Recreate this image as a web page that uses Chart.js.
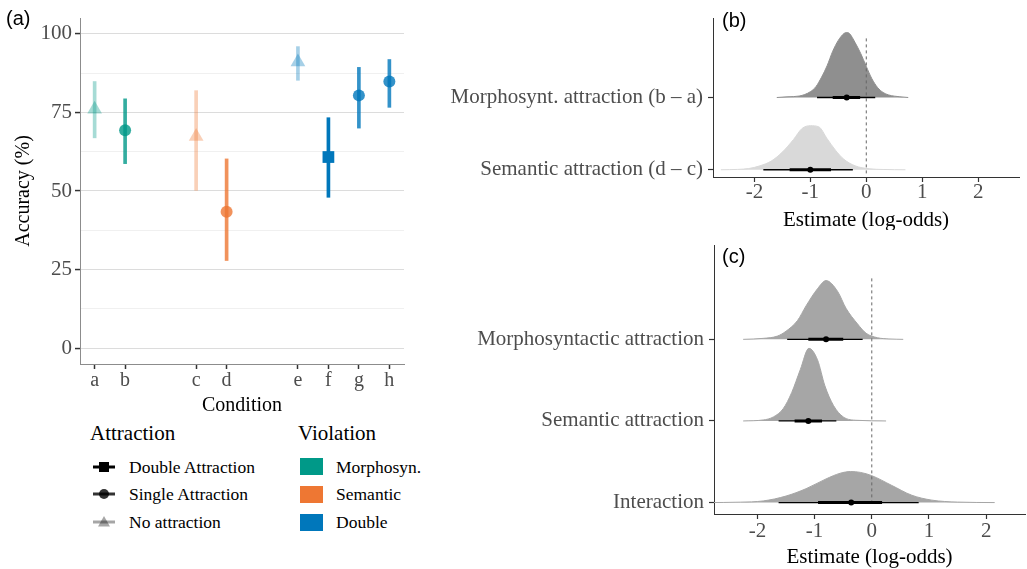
<!DOCTYPE html>
<html>
<head>
<meta charset="utf-8">
<script src="https://cdn.jsdelivr.net/npm/chart.js@4"></script>
<style>
body { margin: 0; width: 1027px; height: 569px; background: #fff; position: relative; overflow: hidden; font-family: 'Liberation Serif', serif; }
canvas { position: absolute; }
.tag { position: absolute; font-family: 'Liberation Sans', sans-serif; font-size: 20px; line-height: 20px; color: #000; }
.lgTitle { position: absolute; font-size: 21px; line-height: 21px; color: #000; white-space: nowrap; }
.lgText { position: absolute; font-size: 17.5px; line-height: 18px; color: #000; white-space: nowrap; }
.lgKey { position: absolute; }
</style>
</head>
<body>
<canvas id="accChart" width="410" height="420" style="left:0;top:0"></canvas>
<canvas id="diffChart" width="597" height="230" style="left:430px;top:0"></canvas>
<canvas id="effChart" width="597" height="339" style="left:430px;top:230px"></canvas>
<div class="tag" style="left:6px;top:8px">(a)</div>
<div class="tag" style="left:722px;top:10px">(b)</div>
<div class="tag" style="left:722px;top:246px">(c)</div>
<div id="legend"></div>
<script>
// Panel (a): accuracy per condition
const conditions = ["a", "b", "c", "d", "e", "f", "g", "h"];
const condPos = [1, 2, 4.33, 5.33, 7.67, 8.67, 9.67, 10.67]; // grouped category slots
const accuracy = [76, 69.3, 67.3, 43.4, 91, 60.8, 80.4, 84.8];
const accLower = [66.9, 58.7, 50.2, 27.9, 85.2, 48.0, 70.0, 76.6];
const accUpper = [84.8, 79.3, 81.9, 60.2, 95.9, 73.3, 89.3, 91.8];
const violation = ["Morphosyn.", "Morphosyn.", "Semantic", "Semantic", "Double", "Double", "Double", "Double"];
const attraction = ["No attraction", "Single Attraction", "No attraction", "Single Attraction",
                    "No attraction", "Double Attraction", "Single Attraction", "Single Attraction"];
const accTicks = [0, 12.5, 25, 37.5, 50, 62.5, 75, 87.5, 100];

// Legend levels
const attractionLevels = ["Double Attraction", "Single Attraction", "No attraction"];
const violationLevels = ["Morphosyn.", "Semantic", "Double"];

// Panel (b): posterior of the attraction differences (rows bottom to top)
const bLabels = ["Semantic attraction (d \u2013 c)", "Morphosynt. attraction (b \u2013 a)"];
const bDensX = [
    [-2.6, -2.3, -2.1, -1.9, -1.7, -1.5, -1.3, -1.15, -1.0, -0.85, -0.7, -0.55, -0.4, -0.2, 0.05, 0.3, 0.7],
    [-1.6, -1.4, -1.2, -1.0, -0.9, -0.8, -0.7, -0.6, -0.5, -0.4, -0.35, -0.3, -0.2, -0.1, 0, 0.1, 0.2, 0.3, 0.4, 0.6, 0.75]
];
const bDensH = [
    [0, 0.005, 0.017, 0.055, 0.12, 0.245, 0.42, 0.57, 0.61, 0.595, 0.43, 0.27, 0.145, 0.055, 0.014, 0.004, 0],
    [0, 0.01, 0.02, 0.08, 0.15, 0.28, 0.44, 0.64, 0.79, 0.885, 0.9, 0.885, 0.76, 0.61, 0.43, 0.26, 0.14, 0.07, 0.035, 0.01, 0]
];
const bPoint = [-1.0, -0.35];
const bInner = [[-1.37, -0.63], [-0.6, -0.11]];
const bOuter = [[-1.84, -0.24], [-0.88, 0.16]];

// Panel (c): posterior of the model effects (rows bottom to top)
const cLabels = ["Interaction", "Semantic attraction", "Morphosyntactic attraction"];
const cDensX = [
    [-2.9, -2.3, -1.9, -1.5, -1.15, -0.8, -0.55, -0.37, -0.2, 0, 0.35, 0.7, 1.05, 1.5, 2.15],
    [-2.25, -1.9, -1.72, -1.55, -1.4, -1.25, -1.1, -0.95, -0.82, -0.67, -0.5, -0.26, 0.25],
    [-2.25, -1.9, -1.65, -1.5, -1.3, -1.15, -0.95, -0.8, -0.6, -0.45, -0.25, -0.1, 0.1, 0.3, 0.55]
];
const cDensH = [
    [0, 0.005, 0.02, 0.08, 0.17, 0.29, 0.36, 0.38, 0.37, 0.33, 0.21, 0.09, 0.03, 0.006, 0],
    [0, 0.012, 0.05, 0.15, 0.35, 0.63, 0.89, 0.75, 0.43, 0.19, 0.05, 0.008, 0],
    [0, 0.012, 0.04, 0.10, 0.23, 0.41, 0.62, 0.72, 0.59, 0.38, 0.19, 0.075, 0.02, 0.005, 0]
];
const cPoint = [-0.36, -1.11, -0.80];
const cInner = [[-0.94, 0.18], [-1.35, -0.87], [-1.11, -0.50]];
const cOuter = [[-1.63, 0.82], [-1.63, -0.62], [-1.48, -0.16]];

const estTicks = [-2, -1, 0, 1, 2];

// Styles
const serif = "'Liberation Serif', serif";
const violationRgb = { "Morphosyn.": "0,153,136", "Semantic": "238,119,51", "Double": "0,119,187" };
const attractionAlpha = { "Double Attraction": 1, "Single Attraction": 0.8, "No attraction": 0.35 };
const attractionShape = { "Double Attraction": "rect", "Single Attraction": "circle", "No attraction": "triangle" };
const attractionSize = { "Double Attraction": 8.3, "Single Attraction": 6, "No attraction": 8.5 };

function markColor(i) {
    return "rgba(" + violationRgb[violation[i]] + "," + attractionAlpha[attraction[i]] + ")";
}

// Panel (a) chart
new Chart(document.getElementById("accChart"), {
    type: "scatter",
    data: {
        datasets: [
            {
                type: "scatter",
                order: 0,
                data: condPos.map((x, i) => ({ x: x, y: accuracy[i] })),
                pointStyle: attraction.map(a => attractionShape[a]),
                pointRadius: attraction.map(a => attractionSize[a]),
                pointHoverRadius: attraction.map(a => attractionSize[a]),
                pointBackgroundColor: conditions.map((c, i) => markColor(i)),
                pointBorderWidth: 0
            },
            {
                type: "bar",
                order: 1,
                data: condPos.map((x, i) => ({ x: x, y: [accLower[i], accUpper[i]] })),
                backgroundColor: conditions.map((c, i) => markColor(i)),
                barThickness: 3,
                borderWidth: 0
            }
        ]
    },
    options: {
        responsive: false,
        animation: false,
        devicePixelRatio: 1,
        layout: { autoPadding: false, padding: { left: 0, top: 18, right: 6, bottom: 0 } },
        plugins: { legend: { display: false }, tooltip: { enabled: false } },
        scales: {
            x: {
                type: "linear", min: 0.52, max: 11.15, offset: false,
                afterBuildTicks: s => { s.ticks = condPos.map(v => ({ value: v })); },
                afterFit: s => { s.height = 56; },
                ticks: { callback: (v, i) => conditions[i], color: "#4d4d4d", font: { family: serif, size: 20, lineHeight: 1 }, padding: 2, autoSkip: false, maxRotation: 0 },
                grid: { offset: false, drawOnChartArea: false, drawTicks: true, tickLength: 5, tickColor: "#333", tickWidth: 1.5 },
                border: { color: "#8c8c8c", width: 1 },
                title: { display: true, text: "Condition", color: "#000", font: { family: serif, size: 20, lineHeight: 1 }, padding: { top: 0, bottom: 4.7 } }
            },
            y: {
                type: "linear", min: -5, max: 105,
                afterBuildTicks: s => { s.ticks = accTicks.map(v => ({ value: v })); },
                afterFit: s => { s.width = 80; },
                ticks: { callback: v => (v % 25 === 0 ? String(v) : ""), color: "#4d4d4d", font: { family: serif, size: 21, lineHeight: 1 }, padding: 3, autoSkip: false },
                grid: {
                    color: ctx => (ctx.tick && ctx.tick.value % 25 === 0 ? "#dcdcdc" : "#ececec"),
                    lineWidth: ctx => (ctx.tick && ctx.tick.value % 25 === 0 ? 1.1 : 0.8),
                    tickColor: ctx => (ctx.tick && ctx.tick.value % 25 === 0 ? "#333" : "rgba(0,0,0,0)"),
                    tickLength: 5, tickWidth: 1.5
                },
                border: { color: "#8c8c8c", width: 1 },
                title: { display: true, text: "Accuracy (%)", color: "#000", font: { family: serif, size: 20, lineHeight: 1 }, padding: { top: 14, bottom: 0 } }
            }
        }
    }
});

// Build the datasets of a half-eye panel: density, intervals, point, zero line
function ridgeDatasets(densX, densH, fills, points, inner, outer, zeroSpan) {
    const sets = [];
    points.forEach((p, i) => {
        const base = i + 1;
        sets.push({ data: [{ x: p, y: base }], showLine: false, pointRadius: 3, pointHoverRadius: 3, pointBackgroundColor: "#000", pointBorderWidth: 0, order: 0 });
        sets.push({ data: inner[i].map(x => ({ x: x, y: base })), borderColor: "#000", borderWidth: 3, pointRadius: 0, order: 1 });
        sets.push({ data: outer[i].map(x => ({ x: x, y: base })), borderColor: "#000", borderWidth: 1.3, pointRadius: 0, order: 2 });
        sets.push({
            data: densX[i].map((x, j) => ({ x: x, y: base + densH[i][j] })),
            fill: { value: base }, backgroundColor: fills[i], borderColor: fills[i], borderWidth: 1,
            pointRadius: 0, cubicInterpolationMode: "monotone", order: 4
        });
    });
    sets.push({ data: [{ x: 0, y: zeroSpan[0] }, { x: 0, y: zeroSpan[1] }], borderColor: "#666", borderWidth: 1, borderDash: [3, 3], pointRadius: 0, order: 3 });
    return sets;
}

function ridgeOptions(labels, cfg) {
    return {
        responsive: false,
        animation: false,
        devicePixelRatio: 1,
        layout: { autoPadding: false, padding: { left: 0, top: cfg.top, right: cfg.right, bottom: 0 } },
        plugins: { legend: { display: false }, tooltip: { enabled: false } },
        scales: {
            x: {
                type: "linear", min: cfg.xMin, max: cfg.xMax,
                afterBuildTicks: s => { s.ticks = estTicks.map(v => ({ value: v })); },
                afterFit: s => { s.height = cfg.xHeight; },
                ticks: { callback: v => String(v), color: "#4d4d4d", font: { family: serif, size: 21, lineHeight: 1 }, padding: cfg.tickPad, autoSkip: false, maxRotation: 0 },
                grid: { drawOnChartArea: false, drawTicks: true, tickLength: 5, tickColor: "#333", tickWidth: 1.2 },
                border: { color: "#333", width: 1 },
                title: { display: true, text: "Estimate (log-odds)", color: "#000", font: { family: serif, size: 21, lineHeight: 1 }, padding: { top: 0, bottom: cfg.titlePad } }
            },
            y: {
                type: "linear", min: cfg.yMin, max: cfg.yMax,
                afterBuildTicks: s => { s.ticks = labels.map((l, i) => ({ value: i + 1 })); },
                afterFit: s => { s.width = cfg.yWidth; },
                ticks: { callback: (v, i) => labels[i], color: "#4d4d4d", font: { family: serif, size: 21, lineHeight: 1 }, padding: 5, autoSkip: false },
                grid: { drawOnChartArea: false, drawTicks: true, tickLength: 5, tickColor: "#333", tickWidth: 1.2 },
                border: { color: "#333", width: 1 }
            }
        }
    };
}

// Panel (b) chart
new Chart(document.getElementById("diffChart"), {
    type: "line",
    data: { datasets: ridgeDatasets(bDensX, bDensH, ["#d9d9d9", "#8f8f8f"], bPoint, bInner, bOuter, [0.95, 2.85]) },
    options: ridgeOptions(bLabels, { top: 18, right: 8, xMin: -2.74, xMax: 2.73, yMin: 0.9, yMax: 3.1, yWidth: 283, xHeight: 53, tickPad: 0, titlePad: -1 })
});

// Panel (c) chart
new Chart(document.getElementById("effChart"), {
    type: "line",
    data: { datasets: ridgeDatasets(cDensX, cDensH, ["#a6a6a6", "#a6a6a6", "#a6a6a6"], cPoint, cInner, cOuter, [0.99, 3.77]) },
    options: ridgeOptions(cLabels, { top: 12, right: 2, xMin: -2.76, xMax: 2.68, yMin: 0.86, yMax: 4.15, yWidth: 284, xHeight: 55, tickPad: 1.5, titlePad: 1.5 })
});

// Legend of panel (a)
const legend = document.getElementById("legend");
const rowCenters = [466.7, 494, 522];
function addDiv(cls, left, top, html) {
    const d = document.createElement("div");
    d.className = cls;
    d.style.left = left + "px";
    d.style.top = top + "px";
    d.innerHTML = html;
    legend.appendChild(d);
}
addDiv("lgTitle", 90, 422.5, "Attraction");
addDiv("lgTitle", 298, 422.5, "Violation");
attractionLevels.forEach((lvl, i) => {
    const col = "rgba(0,0,0," + attractionAlpha[lvl] + ")";
    let shape = "";
    if (attractionShape[lvl] === "rect") shape = '<rect x="7" y="3" width="10" height="10" fill="' + col + '"/>';
    else if (attractionShape[lvl] === "circle") shape = '<circle cx="12" cy="8" r="5" fill="' + col + '"/>';
    else shape = '<polygon points="12,2 18,12.5 6,12.5" fill="' + col + '"/>';
    addDiv("lgKey", 92, rowCenters[i] - 8,
        '<svg width="24" height="16"><line x1="1" y1="8" x2="23" y2="8" stroke="' + col + '" stroke-width="3"/>' + shape + "</svg>");
    addDiv("lgText", 129, rowCenters[i] - 9, lvl);
});
violationLevels.forEach((lvl, i) => {
    addDiv("lgKey", 300, rowCenters[i] - 8.5,
        '<div style="width:23px;height:17px;background:rgb(' + violationRgb[lvl] + ')"></div>');
    addDiv("lgText", 336, rowCenters[i] - 9, lvl);
});
</script>
</body>
</html>
